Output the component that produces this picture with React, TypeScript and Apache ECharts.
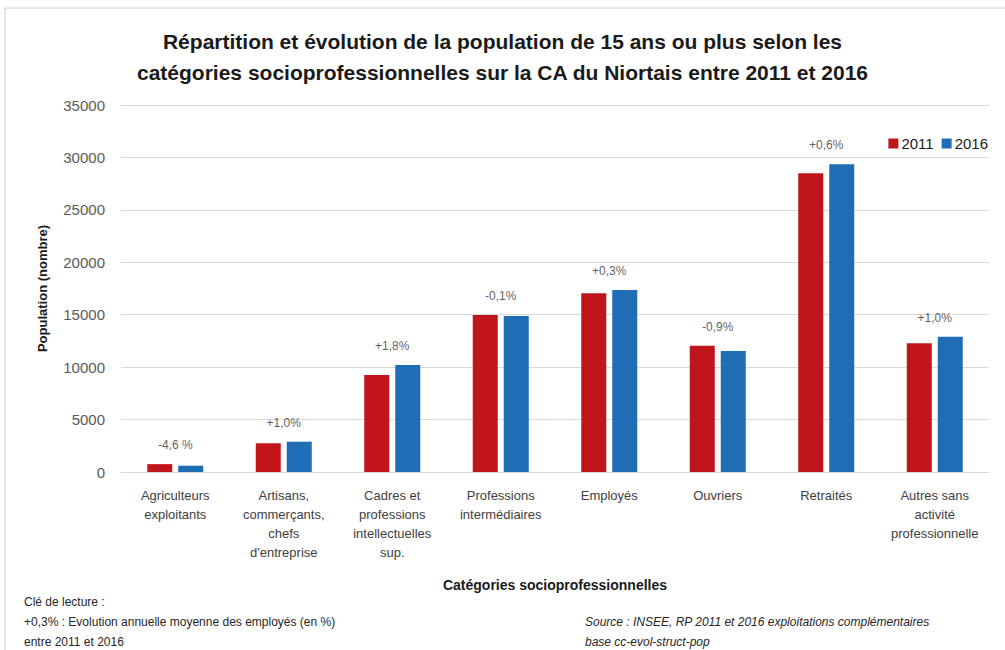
import React, { useEffect, useRef } from "react";
import * as echarts from "echarts";

const categories = [
  "Agriculteurs\nexploitants",
  "Artisans,\ncommerçants,\nchefs\nd'entreprise",
  "Cadres et\nprofessions\nintellectuelles\nsup.",
  "Professions\nintermédiaires",
  "Employés",
  "Ouvriers",
  "Retraités",
  "Autres sans\nactivité\nprofessionnelle",
];
const values2011 = [750, 2740, 9250, 14980, 17050, 12050, 28500, 12280];
const values2016 = [600, 2890, 10200, 14880, 17360, 11540, 29350, 12910];
const evolution = ["-4,6 %", "+1,0%", "+1,8%", "-0,1%", "+0,3%", "-0,9%", "+0,6%", "+1,0%"];
const yTicks = { min: 0, max: 35000, interval: 5000 };

const FONT = "'Liberation Sans', Arial, sans-serif";

export default function App() {
  const ref = useRef<HTMLDivElement>(null);
  useEffect(() => {
    if (!ref.current) return;
    const chart = echarts.init(ref.current, null, { renderer: "svg" });
    const maxes = values2011.map((v, i) => Math.max(v, values2016[i]));
    chart.setOption({
      animation: false,
      backgroundColor: "#ffffff",
      textStyle: { fontFamily: FONT },
      title: {
        text: "Répartition et évolution de la population de 15 ans ou plus selon les\ncatégories socioprofessionnelles sur la CA du Niortais entre 2011 et 2016",
        left: "center",
        top: 21,
        textStyle: { fontSize: 21, fontWeight: "bold", color: "#1a1a1a", lineHeight: 31, fontFamily: FONT },
      },
      legend: {
        data: ["2011", "2016"],
        right: 12,
        top: 131,
        itemWidth: 10,
        itemHeight: 10,
        itemGap: 8,
        icon: "rect",
        textStyle: { fontSize: 15, color: "#1a1a1a", fontFamily: FONT, padding: [0, 0, 0, -2] },
      },
      grid: { left: 121, right: 16, top: 105, bottom: 178, containLabel: false },
      xAxis: {
        type: "category",
        data: categories,
        name: "Catégories socioprofessionnelles",
        nameLocation: "middle",
        nameGap: 106,
        nameTextStyle: { fontSize: 14, fontWeight: "bold", color: "#1a1a1a", fontFamily: FONT },
        axisTick: { show: false },
        axisLine: { lineStyle: { color: "#d9d9d9" } },
        axisLabel: { interval: 0, color: "#404040", fontSize: 13, lineHeight: 19, margin: 14, fontFamily: FONT },
      },
      yAxis: {
        type: "value",
        min: yTicks.min,
        max: yTicks.max,
        interval: yTicks.interval,
        name: "Population (nombre)",
        nameLocation: "middle",
        nameRotate: 90,
        nameGap: 72,
        nameTextStyle: { fontSize: 13, fontWeight: "bold", color: "#1a1a1a", fontFamily: FONT },
        axisLabel: {
          color: "#595959",
          fontSize: 15,
          margin: 16,
          fontFamily: FONT,
          formatter: (v: number) => String(v),
        },
        splitLine: { lineStyle: { color: "#d9d9d9" } },
      },
      series: [
        {
          name: "2011",
          type: "bar",
          data: values2011,
          barWidth: 25,
          barGap: "24%",
          itemStyle: { color: "#c0161b" },
        },
        {
          name: "2016",
          type: "bar",
          data: values2016,
          barWidth: 25,
          itemStyle: { color: "#1e6db5" },
        },
        {
          name: "evolution",
          type: "scatter",
          data: maxes,
          symbolSize: 0,
          silent: true,
          label: {
            show: true,
            position: "top",
            distance: 13,
            formatter: (p: any) => evolution[p.dataIndex],
            color: "#333333",
            fontSize: 12,
            fontFamily: FONT,
          },
        },
      ],
      graphic: [
        {
          type: "rect",
          shape: { x: 5, y: 8, width: 1010, height: 660 },
          style: { fill: "none", stroke: "#d0d0d0", lineWidth: 1 },
          silent: true,
        },
        {
          type: "text",
          left: 24,
          top: 592,
          style: {
            text: "Clé de lecture :\n+0,3% : Evolution annuelle moyenne des employés (en %)\nentre 2011 et 2016",
            fill: "#262626",
            fontSize: 12,
            lineHeight: 20,
            fontFamily: FONT,
          },
        },
        {
          type: "text",
          left: 585,
          top: 612,
          style: {
            text: "Source : INSEE, RP 2011 et 2016 exploitations complémentaires\nbase cc-evol-struct-pop",
            fill: "#262626",
            fontSize: 12,
            fontStyle: "italic",
            lineHeight: 20,
            fontFamily: FONT,
          },
        },
      ],
    });
    return () => chart.dispose();
  }, []);
  return (
    <div
      ref={ref}
      style={{ position: "fixed", left: 0, top: 0, width: 1005, height: 650 }}
    />
  );
}
